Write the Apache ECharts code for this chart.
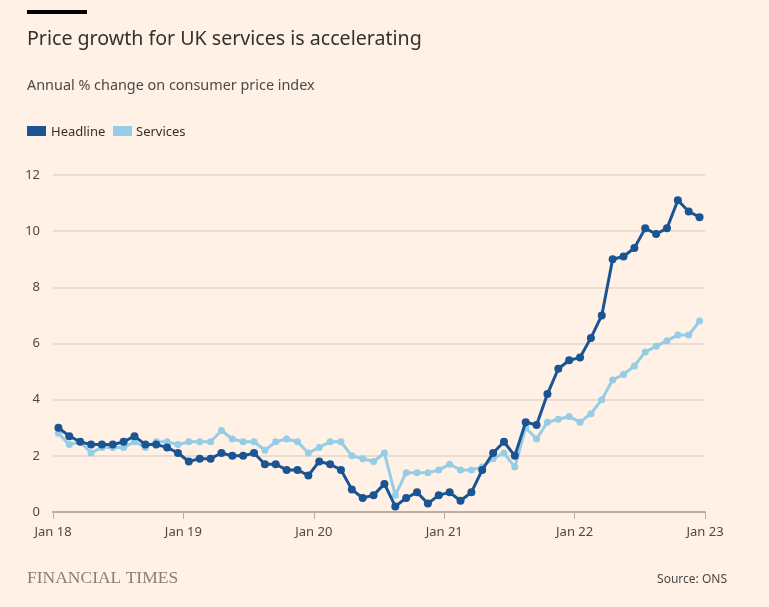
<!DOCTYPE html>
<html>
<head>
<meta charset="utf-8">
<script src="https://cdn.jsdelivr.net/npm/echarts@6/dist/echarts.min.js"></script>
<style>
html,body{margin:0;padding:0;background:#fff1e5;}
#chart{width:769px;height:607px;}
</style>
</head>
<body>
<div id="chart"></div>
<script>
var tickLabels = ['Jan 18','Jan 19','Jan 20','Jan 21','Jan 22','Jan 23'];
var seriesNames = ['Headline','Services'];
var headline = [
  3.0,2.7,2.5,2.4,2.4,2.4,2.5,2.7,2.4,2.4,2.3,2.1,
  1.8,1.9,1.9,2.1,2.0,2.0,2.1,1.7,1.7,1.5,1.5,1.3,
  1.8,1.7,1.5,0.8,0.5,0.6,1.0,0.2,0.5,0.7,0.3,0.6,
  0.7,0.4,0.7,1.5,2.1,2.5,2.0,3.2,3.1,4.2,5.1,5.4,
  5.5,6.2,7.0,9.0,9.1,9.4,10.1,9.9,10.1,11.1,10.7,10.5
];
var services = [
  2.8,2.4,2.5,2.1,2.3,2.3,2.3,2.5,2.3,2.5,2.5,2.4,
  2.5,2.5,2.5,2.9,2.6,2.5,2.5,2.2,2.5,2.6,2.5,2.1,
  2.3,2.5,2.5,2.0,1.9,1.8,2.1,0.6,1.4,1.4,1.4,1.5,
  1.7,1.5,1.5,1.6,1.9,2.1,1.6,3.0,2.6,3.2,3.3,3.4,
  3.2,3.5,4.0,4.7,4.9,5.2,5.7,5.9,6.1,6.3,6.3,6.8
];
function toPairs(arr){ return arr.map(function(v,i){ return [i+0.5, v]; }); }

var colHead = '#1a5493';
var colServ = '#96cde6';
var font = '"Noto Sans", "Open Sans", sans-serif';
var chart = echarts.init(document.getElementById('chart'), null, {renderer:'canvas'});
chart.setOption({
  backgroundColor:'#fff1e5',
  animation:false,
  graphic:[
    {type:'rect', left:27, top:10, shape:{width:60, height:4}, style:{fill:'#000000'}},
    {type:'text', left:27, top:29, style:{text:'Price growth for UK services is accelerating', font:'19.6px '+font, fill:'#33302e'}},
    {type:'text', left:27, top:79, style:{text:'Annual % change on consumer price index', font:'14.4px '+font, fill:'#4d4845'}},
    {type:'rect', left:27, top:126, shape:{width:19, height:10}, style:{fill:colHead}},
    {type:'text', left:51, top:126, style:{text:seriesNames[0], font:'13px '+font, fill:'#33302e'}},
    {type:'rect', left:113, top:126, shape:{width:19, height:10}, style:{fill:colServ}},
    {type:'text', left:136, top:126, style:{text:seriesNames[1], font:'13px '+font, fill:'#33302e'}},
    {type:'text', left:27, top:569, style:{text:'FINANCIAL TIMES', font:'17.5px "Liberation Serif", "DejaVu Serif", serif', fill:'#8a7f77'}},
    {type:'text', right:42, top:574, style:{text:'Source: ONS', font:'12px '+font, fill:'#4d4845'}}
  ],
  grid:{left:53, right:64, top:175, bottom:95},
  xAxis:{
    type:'value', min:0, max:60, interval:12,
    axisLine:{show:true, lineStyle:{color:'#b8aea5', width:2}},
    axisTick:{show:true, length:7, lineStyle:{color:'#b8aea5'}},
    splitLine:{show:false},
    axisLabel:{fontFamily:font, fontSize:13, color:'#4d4845', margin:14,
      formatter:function(v){ return tickLabels[Math.round(v/12)]; }}
  },
  yAxis:{
    type:'value', min:0, max:12, interval:2,
    axisLine:{show:false}, axisTick:{show:false},
    splitLine:{lineStyle:{color:'#e3d5c9', width:1.5}},
    axisLabel:{fontFamily:font, fontSize:13, color:'#4d4845', margin:13}
  },
  series:[
    {name:seriesNames[1], type:'line', data:toPairs(services), z:2,
      color:colServ, symbol:'circle', symbolSize:7, showSymbol:true,
      lineStyle:{width:3, color:colServ}, itemStyle:{color:colServ}},
    {name:seriesNames[0], type:'line', data:toPairs(headline), z:3,
      color:colHead, symbol:'circle', symbolSize:8, showSymbol:true,
      lineStyle:{width:3, color:colHead}, itemStyle:{color:colHead}}
  ]
});
</script>
</body>
</html>
